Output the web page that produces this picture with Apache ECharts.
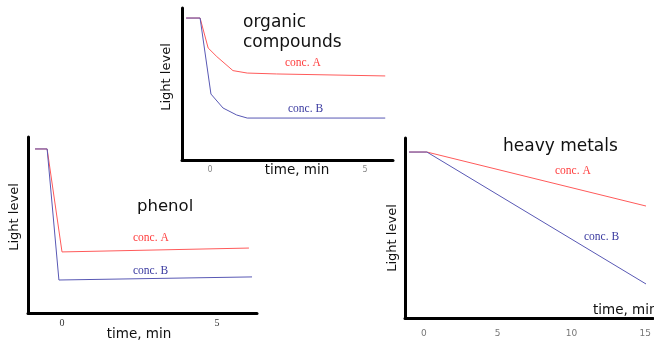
<!DOCTYPE html>
<html><head><meta charset="utf-8">
<script src="https://cdn.jsdelivr.net/npm/echarts@6/dist/echarts.min.js"></script>
<style>html,body{margin:0;padding:0;background:#fff}#c{width:654px;height:341px}</style>
</head><body><div id="c"></div>
<script>
// Organic compounds (time, min ; light level %)
const organicA = [[-0.77,93.4],[-0.32,93.4],[-0.06,73.7],[0.22,68],[0.74,58.8],[1.2,57.2],[2.15,56.6],[5.65,55.3]];
const organicB = [[-0.77,93.4],[-0.32,93.4],[0.03,43.4],[0.42,34.2],[0.86,29.6],[1.2,27.6],[5.65,27.6]];
// Phenol
const phenolA = [[-0.87,93.2],[-0.48,93.2],[0,34.7],[6.03,36.9]];
const phenolB = [[-0.87,93.2],[-0.48,93.2],[-0.1,18.75],[6.13,20.5]];
// Heavy metals
const metalsA = [[-1.01,92.2],[0.2,92.2],[15.05,62.2]];
const metalsB = [[-1.01,92.2],[0.2,92.2],[15.05,18.9]];
const ticksShort = [0,5];
const ticksLong = [0,5,10,15];
const titles = ['organic','compounds','phenol','heavy metals'];
const seriesNames = ['conc. A','conc. B'];
const xName = 'time, min';
const yName = 'Light level';

const RED = '#ff5a5a', BLUE = '#5858b4';
const SANS = 'DejaVu Sans', SERIF = 'Liberation Serif';
const chart = echarts.init(document.getElementById('c'));

function xAxis(gi, min, max, ticks, lab) {
  return {type:'value', gridIndex:gi, min:min, max:max,
    axisLine:{show:true, onZero:false, lineStyle:{color:'#000', width:3}},
    axisTick:{show:false}, splitLine:{show:false},
    axisLabel:Object.assign({customValues:ticks, showMinLabel:true, showMaxLabel:true}, lab)};
}
function yAxis(gi) {
  return {type:'value', gridIndex:gi, min:0, max:100,
    axisLine:{show:true, onZero:false, lineStyle:{color:'#000', width:3}},
    axisTick:{show:false}, splitLine:{show:false}, axisLabel:{show:false}};
}
function line(name, data, color, i) {
  return {type:'line', name:name, data:data, xAxisIndex:i, yAxisIndex:i,
    symbol:'none', lineStyle:{color:color, width:1}, itemStyle:{color:color}, animation:false};
}
function txt(x, y, s, size, color, font, rot, align) {
  return {type:'text', x:x, y:y, rotation:rot||0, z:10,
    style:{text:s, fontSize:size, fill:color, fontFamily:font,
      textAlign:align||'left', textVerticalAlign:'middle'}};
}

chart.setOption({
  animation:false,
  grid:[
    {left:182, top:8, width:211, height:152},
    {left:28, top:137, width:229, height:176},
    {left:405, top:138, width:249, height:180}
  ],
  xAxis:[
    xAxis(0, -0.903, 5.9, ticksShort, {color:'#888', fontSize:8, fontFamily:SANS, margin:6}),
    xAxis(1, -1.097, 6.29, ticksShort, {color:'#333', fontSize:10, fontFamily:SERIF, margin:5}),
    xAxis(2, -1.284, 15.54, ticksLong, {color:'#777', fontSize:9, fontFamily:SANS, margin:11})
  ],
  yAxis:[yAxis(0), yAxis(1), yAxis(2)],
  series:[
    line(seriesNames[0], organicA, RED, 0), line(seriesNames[1], organicB, BLUE, 0),
    line(seriesNames[0], phenolA, RED, 1), line(seriesNames[1], phenolB, BLUE, 1),
    line(seriesNames[0], metalsA, RED, 2), line(seriesNames[1], metalsB, BLUE, 2)
  ],
  graphic:[
    txt(243, 23, titles[0], 17, '#111', SANS),
    txt(243, 43, titles[1], 17, '#111', SANS),
    txt(137, 207, titles[2], 16.5, '#111', SANS),
    txt(503, 147, titles[3], 17, '#111', SANS),
    txt(285, 63, seriesNames[0], 11.5, '#ff3d3d', SERIF),
    txt(288, 109, seriesNames[1], 11.5, '#3a3aa0', SERIF),
    txt(133, 238, seriesNames[0], 11.5, '#ff3d3d', SERIF),
    txt(133, 271, seriesNames[1], 11.5, '#3a3aa0', SERIF),
    txt(555, 171, seriesNames[0], 11.5, '#ff3d3d', SERIF),
    txt(584, 237, seriesNames[1], 11.5, '#3a3aa0', SERIF),
    txt(297, 170, xName, 13.5, '#111', SANS, 0, 'center'),
    txt(139, 334, xName, 13.5, '#111', SANS, 0, 'center'),
    txt(593, 310, xName, 13.5, '#111', SANS),
    txt(167, 77, yName, 13, '#111', SANS, Math.PI/2, 'center'),
    txt(15, 217, yName, 13, '#111', SANS, Math.PI/2, 'center'),
    txt(393, 238, yName, 13, '#111', SANS, Math.PI/2, 'center')
  ]
});
</script></body></html>
